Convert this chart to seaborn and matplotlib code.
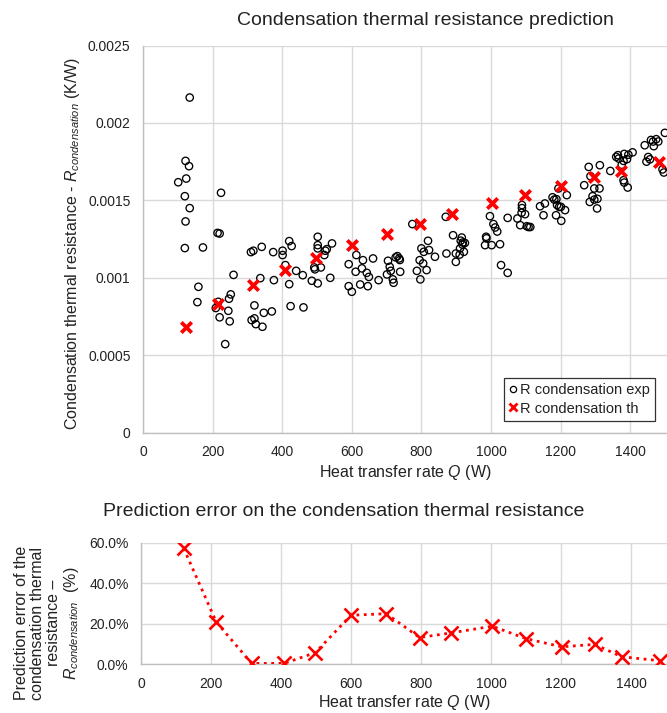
import numpy as np
import pandas as pd
import matplotlib
matplotlib.use("Agg")
import matplotlib.pyplot as plt
from matplotlib.lines import Line2D
from matplotlib.ticker import FuncFormatter
import seaborn as sns

# ---------------- data ----------------
q_exp = [134, 122, 132, 101, 124, 120, 224, 134, 122, 214, 220, 120, 172, 260, 159, 156, 252, 247, 209, 216,
         245, 220, 249, 236,
         310, 317, 341, 374, 401, 401, 420, 427, 337, 376, 409, 440, 420, 320, 424, 312, 320, 324, 343, 347, 370,
         459, 461, 485, 502, 492, 494, 511, 502, 502, 502, 524, 528, 521, 543, 538,
         591, 613, 632, 611, 591, 600, 624, 646, 629, 643, 649, 661, 677,
         704, 709, 701, 718, 720, 726, 731, 736, 738, 739, 712,
         774, 819, 800, 807, 822, 795, 805, 787, 815, 797, 839,
         870, 891, 913, 919, 925, 872, 899, 899, 911, 922, 916, 918, 910,
         997, 1007, 1012, 1018, 986, 987, 983, 1002, 1026, 1029, 1048, 1048,
         1089, 1089, 1088, 1076, 1098, 1084, 1103, 1108, 1113,
         1141, 1155, 1151, 1194, 1177, 1182, 1188, 1190, 1196, 1201, 1218, 1213, 1187, 1202,
         1281, 1313, 1286, 1268, 1297, 1312, 1292, 1306, 1297, 1284, 1305,
         1343, 1360, 1365, 1367, 1383, 1395, 1407, 1381, 1391, 1376, 1381, 1383, 1393,
         1442, 1460, 1466, 1475, 1481, 1468, 1500, 1452, 1457, 1447, 1493, 1497]
r_exp = [0.002164, 0.001755, 0.001721, 0.001617, 0.001641, 0.001527, 0.001549, 0.001450, 0.001364, 0.001290,
         0.001286, 0.001192, 0.001196, 0.001019, 0.000942, 0.000843, 0.000893, 0.000865, 0.000805, 0.000845,
         0.000787, 0.000745, 0.000719, 0.000572,
         0.001166, 0.001175, 0.001200, 0.001166, 0.001175, 0.001147, 0.001237, 0.001205, 0.000998, 0.000985,
         0.001082, 0.001045, 0.000959, 0.000822, 0.000817, 0.000727, 0.000738, 0.000701, 0.000684, 0.000774,
         0.000783,
         0.001017, 0.000809, 0.000981, 0.000964, 0.001067, 0.001055, 0.001067, 0.001265, 0.001211, 0.001190,
         0.001175, 0.001185, 0.001147, 0.001222, 0.001000,
         0.001088, 0.001147, 0.001114, 0.001039, 0.000946, 0.000910, 0.000957, 0.000946, 0.001061, 0.001032,
         0.001006, 0.001125, 0.000985,
         0.001110, 0.001071, 0.001022, 0.000990, 0.000968, 0.001132, 0.001140, 0.001125, 0.001115, 0.001039,
         0.001045,
         0.001347, 0.001239, 0.001190, 0.001168, 0.001179, 0.001114, 0.001093, 0.001045, 0.001050, 0.000990,
         0.001136,
         0.001394, 0.001275, 0.001240, 0.001228, 0.001225, 0.001157, 0.001157, 0.001103, 0.001190, 0.001168,
         0.001260, 0.001215, 0.001150,
         0.001398, 0.001347, 0.001325, 0.001299, 0.001265, 0.001255, 0.001211, 0.001211, 0.001217, 0.001082,
         0.001032, 0.001387,
         0.001470, 0.001450, 0.001420, 0.001383, 0.001411, 0.001340, 0.001333, 0.001328, 0.001328,
         0.001462, 0.001480, 0.001404, 0.001577, 0.001520, 0.001505, 0.001508, 0.001470, 0.001458, 0.001458,
         0.001534, 0.001437, 0.001404, 0.001368,
         0.001716, 0.001727, 0.001656, 0.001598, 0.001577, 0.001577, 0.001527, 0.001510, 0.001505, 0.001490,
         0.001448,
         0.001690, 0.001781, 0.001792, 0.001770, 0.001800, 0.001795, 0.001810, 0.001755, 0.001766, 0.001730,
         0.001630, 0.001615, 0.001583,
         0.001856, 0.001890, 0.001880, 0.001895, 0.001880, 0.001850, 0.001936, 0.001780, 0.001765, 0.001750,
         0.001700, 0.001680]

q_th = [122, 215, 316, 409, 498, 600, 701, 796, 887, 1004, 1099, 1202, 1297, 1373, 1484]
r_th = [0.000684, 0.000830, 0.000951, 0.001050, 0.001129, 0.001211, 0.001282, 0.001347, 0.001411,
        0.001480, 0.001534, 0.001591, 0.001648, 0.001690, 0.001748]
err_pct = [57.2, 20.8, 0.3, 0.3, 5.6, 24.1, 24.9, 13.1, 15.4, 18.7, 12.6, 8.5, 9.7, 3.6, 1.6]

x_ticks = [0, 200, 400, 600, 800, 1000, 1200, 1400]
y_ticks_top = [0, 0.0005, 0.001, 0.0015, 0.002, 0.0025]
y_tick_labels_top = ["0", "0.0005", "0.001", "0.0015", "0.002", "0.0025"]
y_ticks_bot = [0, 20, 40, 60]

# ---------------- style ----------------
sns.set_style("white")
plt.rcParams["font.family"] = ["Liberation Sans", "DejaVu Sans"]
plt.rcParams["mathtext.fontset"] = "custom"
plt.rcParams["mathtext.rm"] = "Liberation Sans"
plt.rcParams["mathtext.it"] = "Liberation Sans:italic"
plt.rcParams["mathtext.bf"] = "Liberation Sans:bold"

GRID = "#d9d9d9"
SPINE = "#bfbfbf"
TXT = "#222222"
RED = "#ff0000"

W, H = 667, 713
fig = plt.figure(figsize=(W / 100, H / 100), dpi=100)

def px_axes(left, top, right, bottom):
    return fig.add_axes([left / W, 1 - bottom / H, (right - left) / W, (bottom - top) / H])

def style_ax(ax):
    for s in ["top", "right"]:
        ax.spines[s].set_visible(False)
    for s in ["left", "bottom"]:
        ax.spines[s].set_color(SPINE)
        ax.spines[s].set_linewidth(1.0)
    ax.grid(True, color=GRID, linewidth=1.0)
    ax.set_axisbelow(True)
    ax.tick_params(axis="both", length=0, labelsize=10, colors=TXT, pad=9)

# ---------------- top chart ----------------
ax1 = px_axes(143.1, 45.5, 667, 432.7)
df_exp = pd.DataFrame({"Q": q_exp, "R": r_exp})
df_th = pd.DataFrame({"Q": q_th, "R": r_th})
sns.scatterplot(data=df_exp, x="Q", y="R", ax=ax1, marker="o", s=28,
                facecolor="none", edgecolor="black", linewidth=0.95, zorder=3)
sns.scatterplot(data=df_th, x="Q", y="R", ax=ax1, marker="x", s=56,
                color=RED, linewidth=2.7, zorder=4)
ax1.set_xlim(0, 1506)
ax1.set_ylim(0, 0.0025)
ax1.set_xticks(x_ticks)
ax1.set_yticks(y_ticks_top)
ax1.set_yticklabels(y_tick_labels_top)
ax1.set_xlabel("")
ax1.set_ylabel("")
style_ax(ax1)

handles = [Line2D([], [], linestyle="none", marker="o", markersize=4.5, markerfacecolor="none",
                  markeredgecolor="black", markeredgewidth=0.9),
           Line2D([], [], linestyle="none", marker="x", markersize=5.5, color=RED,
                  markeredgewidth=2.0)]
leg = ax1.legend(handles, ["R condensation exp", "R condensation th"], loc="lower right",
                 bbox_to_anchor=(0.977, 0.031), frameon=True, fancybox=False,
                 edgecolor="black", fontsize=10.5, handlelength=0.5, handletextpad=0.25,
                 borderpad=0.35, labelspacing=0.3, borderaxespad=0)
leg.get_frame().set_linewidth(0.9)
for t in leg.get_texts():
    t.set_color(TXT)

fig.text(425 / W, 1 - 20.7 / H, "Condensation thermal resistance prediction",
         ha="center", va="center", fontsize=14, color=TXT)
fig.text(72.7 / W, 1 - 243 / H,
         r"Condensation thermal resistance - $R_{\mathit{condensation}}$ (K/W)",
         ha="center", va="center", rotation=90, fontsize=11.5, color=TXT)
fig.text(405 / W, 1 - 473 / H, r"Heat transfer rate $Q$ (W)",
         ha="center", va="center", fontsize=11.5, color=TXT)

# ---------------- bottom chart ----------------
ax2 = px_axes(141, 542.7, 667, 664)
df_err = pd.DataFrame({"Q": q_th, "E": err_pct})
sns.lineplot(data=df_err, x="Q", y="E", ax=ax2, color=RED, linestyle=":", linewidth=2.0,
             marker="x", markersize=9.5, markeredgewidth=1.9, markeredgecolor=RED,
             markerfacecolor=RED, zorder=4)
ax2.set_xlim(0, 1503)
ax2.set_ylim(0, 60)
ax2.set_xticks(x_ticks)
ax2.set_yticks(y_ticks_bot)
ax2.yaxis.set_major_formatter(FuncFormatter(lambda v, p: f"{v:.1f}%"))
ax2.set_xlabel("")
ax2.set_ylabel("")
style_ax(ax2)

fig.text(343.5 / W, 1 - 511.7 / H, "Prediction error on the condensation thermal resistance",
         ha="center", va="center", fontsize=14, color=TXT)
fig.text(47.5 / W, 1 - 623 / H,
         "Prediction error of the\ncondensation thermal\nresistance \u2013\n"
         r"$R_{\mathit{condensation}}$  (%)",
         ha="center", va="center", rotation=90, fontsize=11.5, color=TXT,
         multialignment="center", linespacing=1.08)
fig.text(404 / W, 1 - 702 / H, r"Heat transfer rate $Q$ (W)",
         ha="center", va="center", fontsize=11.5, color=TXT)

fig.savefig("out.png", dpi=100)
